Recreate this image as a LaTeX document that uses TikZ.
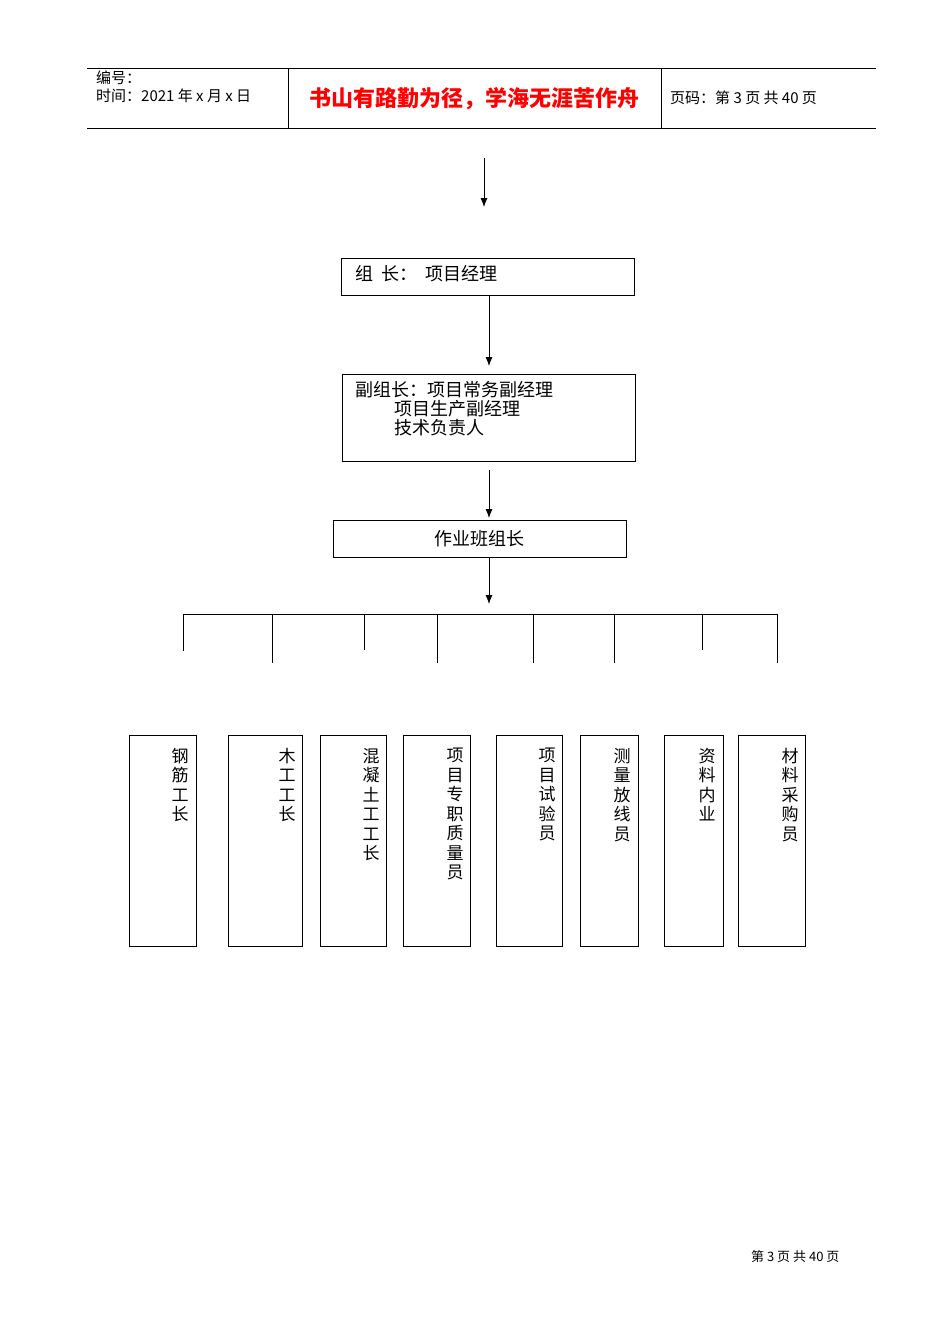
\documentclass[tikz,border=0pt]{standalone}
\usepackage{fontspec}
\usetikzlibrary{arrows.meta}
\newfontfamily\cjk{Noto Sans CJK SC}
\begin{document}
\begin{tikzpicture}[x=1pt,y=-1pt,font=\cjk,
  box/.style={draw,line width=0.8pt},
  arr/.style={-{Latex[length=9pt,width=7pt]},line width=0.8pt},
  ln/.style={line width=0.8pt},
  vt/.style={anchor=north,align=center,font=\cjk\fontsize{17}{19.5}\selectfont,inner sep=0}]
\useasboundingbox (0,0) rectangle (950,1344);
% header
\draw[line width=0.6pt] (87,68) -- (876,68) (87,128) -- (876,128) (288,68) -- (288,128) (661,68) -- (661,128);
\node[anchor=west,font=\cjk\fontsize{15}{16}\selectfont,inner sep=0] (h1) at (96,78) {编号：};
\node[anchor=west,font=\cjk\fontsize{15}{16}\selectfont,inner sep=0] (h2) at (96,96) {时间：2021 年 x 月 x 日};
\node[font=\cjk\bfseries\fontsize{22}{24}\selectfont,text=red,inner sep=0] (h3) at (474,99) {书山有路勤为径，学海无涯苦作舟};
\node[anchor=west,font=\cjk\fontsize{15}{16}\selectfont,inner sep=0] (h4) at (670,98) {页码：第 3 页 共 40 页};
% top arrow
\coordinate (t0) at (484,158); \coordinate (t1) at (484,207);
\draw[arr] (t0) -- (t1);
% boxes
\node[box,minimum width=293,minimum height=37,inner sep=0] (b1) at (487.5,276.5) {};
\node[anchor=west,font=\cjk\fontsize{18}{19}\selectfont,inner sep=0] (b1t) at (355,274) {组\ \ 长：\ \ 项目经理};
\node[box,minimum width=293,minimum height=87,inner sep=0] (b2) at (488.5,417.5) {};
\node[anchor=west,font=\cjk\fontsize{18}{19}\selectfont,inner sep=0] (b2a) at (355,390) {副组长：项目常务副经理};
\node[anchor=west,font=\cjk\fontsize{18}{19}\selectfont,inner sep=0] (b2b) at (394,409) {项目生产副经理};
\node[anchor=west,font=\cjk\fontsize{18}{19}\selectfont,inner sep=0] (b2c) at (394,428) {技术负责人};
\node[box,minimum width=293,minimum height=37,inner sep=0,font=\cjk\fontsize{18}{19}\selectfont] (b3) at (479.5,538.5) {作业班组长};
\draw[arr] (489,295) -- (489,366);
\draw[arr] (489,470) -- (489,518);
\coordinate (bus) at (489,604);
\draw[arr] (489,557) -- (bus);
% bus
\draw[ln] (183,614) -- (777,614);
\foreach \x/\y in {183/651,272/663,364/650,437/663,533/663,614/663,702/650,777/663}
  \draw[ln] (\x,614) -- (\x,\y);
% bottom boxes
\foreach \a/\b/\tx/\t [count=\i] in {129/196/180/{钢\\筋\\工\\长},228/302/287/{木\\工\\工\\长},320/386/371/{混\\凝\\土\\工\\工\\长},403/470/455/{项\\目\\专\\职\\质\\量\\员},496/562/547/{项\\目\\试\\验\\员},580/638/622/{测\\量\\放\\线\\员},664/723/707/{资\\料\\内\\业},738/805/790/{材\\料\\采\\购\\员}}{
  \draw[box] (\a,735) rectangle (\b,946);
  \node[vt] (v\i) at (\tx,748) {\t};
}
\node[anchor=west,font=\cjk\fontsize{13}{14}\selectfont,inner sep=0] (ft) at (751,1257) {第 3 页 共 40 页};
\end{tikzpicture}
\end{document}
